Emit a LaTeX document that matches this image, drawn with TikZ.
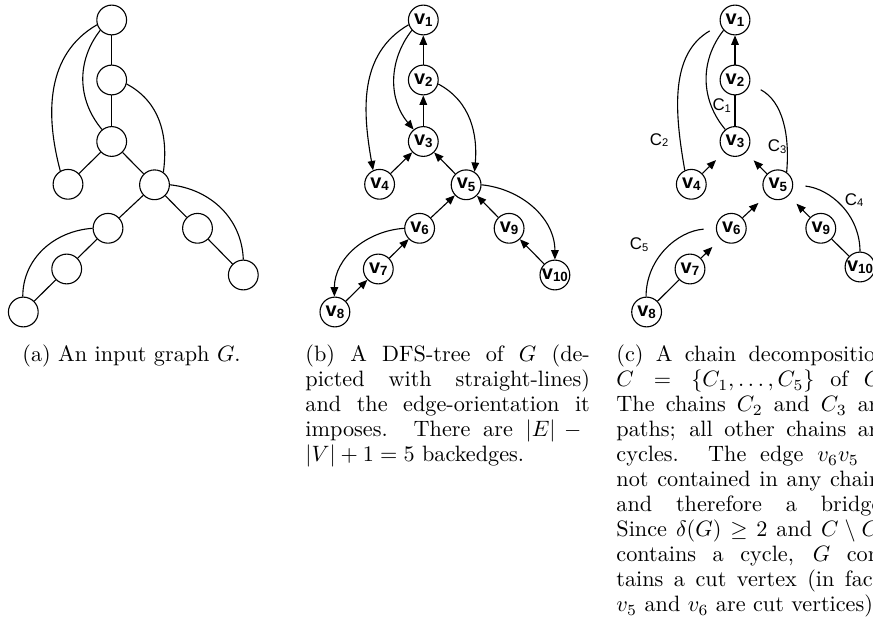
\documentclass[tikz,border=0pt]{standalone}
\usepackage{fontspec}
\newfontfamily\lsans{Liberation Sans}
\usetikzlibrary{arrows.meta}
\newcommand\vl[1]{\lsans\bfseries\fontsize{9}{9}\selectfont v\raisebox{-1pt}{\fontsize{6}{6}\selectfont #1}}
\newcommand\cl[1]{\lsans\fontsize{7.6}{8}\selectfont C\raisebox{-0.8pt}{\fontsize{5}{5}\selectfont #1}}
\newcommand\jl[2]{\makebox[#1][s]{#2}}
\begin{document}
\begin{tikzpicture}[x=0.45pt,y=-0.45pt,
  vtx/.style={circle,draw,line width=0.5pt,minimum size=13.4pt,inner sep=0pt},
  tline/.style={line width=0.5pt},
  arr/.style={line width=0.5pt,-{Triangle[length=4.2pt,width=3.4pt]}},
  sarr/.style={arr,shorten >=5pt},
  chainl/.style={line width=0.5pt,shorten <=5.5pt},
  clab/.style={inner sep=0pt},
  captxt/.style={anchor=base west,inner sep=0pt,font=\fontsize{10}{11}\selectfont}
]
\useasboundingbox (0,0) rectangle (873,622);
\clip (0,0) rectangle (873,622);

% ---------------- (a) ----------------
\node[vtx] (a1) at (111.7,20) {};
\node[vtx] (a2) at (111.7,80) {};
\node[vtx] (a3) at (111.7,141.5) {};
\node[vtx] (a4) at (68,184.3) {};
\node[vtx] (a5) at (154.5,184.8) {};
\node[vtx] (a6) at (108,228.3) {};
\node[vtx] (a7) at (66.7,269) {};
\node[vtx] (a8) at (23.3,312) {};
\node[vtx] (a9) at (197.5,228.3) {};
\node[vtx] (a10) at (243.3,275) {};
\draw[tline] (a1)--(a2);
\draw[tline] (a2)--(a3);
\draw[tline] (a3)--(a4);
\draw[tline] (a3)--(a5);
\draw[tline] (a5)--(a6);
\draw[tline] (a6)--(a7);
\draw[tline] (a7)--(a8);
\draw[tline] (a5)--(a9);
\draw[tline] (a9)--(a10);
\draw[tline] (a1.198) to[out=210,in=105] (a4.120);
\draw[tline] (a1.222) to[out=232,in=130] (a3.129);
\draw[tline] (a2.-15) to[out=-28,in=82] (a5.55);
\draw[tline] (a5.0) to[out=-6,in=92] (a10.90);
\draw[tline] (a6.180) to[out=184,in=90] (a8.92);

% ---------------- (b) ----------------
\begin{scope}[shift={(311.6,0)}]
\node[vtx] (b1) at (111.7,20) {\vl{1}};
\node[vtx] (b2) at (111.7,80) {\vl{2}};
\node[vtx] (b3) at (111.7,141.5) {\vl{3}};
\node[vtx] (b4) at (68,184.3) {\vl{4}};
\node[vtx] (b5) at (154.5,184.8) {\vl{5}};
\node[vtx] (b6) at (108,228.3) {\vl{6}};
\node[vtx] (b7) at (66.7,269) {\vl{7}};
\node[vtx] (b8) at (23.3,312) {\vl{8}};
\node[vtx] (b9) at (197.5,228.3) {\vl{9}};
\node[vtx] (b10) at (243.3,275) {\vl{10}};
\end{scope}
\draw[arr] (b2)--(b1);
\draw[arr] (b3)--(b2);
\draw[arr] (b4)--(b3);
\draw[arr] (b5)--(b3);
\draw[arr] (b6)--(b5);
\draw[arr] (b7)--(b6);
\draw[arr] (b8)--(b7);
\draw[arr] (b9)--(b5);
\draw[arr] (b10)--(b9);
\draw[arr] (b1.198) to[out=210,in=100] (b4.115);
\draw[arr] (b1.222) to[out=232,in=130] (b3.129);
\draw[arr] (b2.-15) to[out=-28,in=85] (b5.57);
\draw[arr] (b5.0) to[out=-6,in=90] (b10.90);
\draw[arr] (b6.180) to[out=184,in=90] (b8.92);

% ---------------- (c) ----------------
\begin{scope}[shift={(623.3,0)}]
\node[vtx] (c1) at (111.7,20) {\vl{1}};
\node[vtx] (c2) at (111.7,80) {\vl{2}};
\node[vtx] (c3) at (111.7,141.5) {\vl{3}};
\node[vtx] (c4) at (68,184.3) {\vl{4}};
\node[vtx] (c5) at (154.5,184.8) {\vl{5}};
\node[vtx] (c6) at (108,228.3) {\vl{6}};
\node[vtx] (c7) at (66.7,269) {\vl{7}};
\node[vtx] (c8) at (23.3,312) {\vl{8}};
\node[vtx] (c9) at (197.5,228.3) {\vl{9}};
\end{scope}
\node[vtx] (c10) at (860,267) {\vl{10}};
\draw[arr] (c2)--(c1);
\draw[tline] (c2)--(c3);
\draw[sarr] (c4)--(c3);
\draw[sarr] (c5)--(c3);
\draw[sarr] (c6)--(c5);
\draw[sarr] (c7)--(c6);
\draw[tline] (c8)--(c7);
\draw[sarr] (c9)--(c5);
\draw[tline] (c10)--(c9);
\draw[chainl] (c1.198) to[out=210,in=100] (c4.115);
\draw[tline] (c1.222) to[out=232,in=130] (c3.129);
\draw[chainl] (c2.-15) to[out=-28,in=85] (c5.55);
\draw[chainl] (c5.0) to[out=-6,in=90] (c10.90);
\draw[chainl] (c6.180) to[out=184,in=90] (c8.92);
\node[clab] (k1) at (721.7,105.3) {\cl{1}};
\node[clab] (k2) at (659,140) {\cl{2}};
\node[clab] (k3) at (777,146.7) {\cl{3}};
\node[clab] (k4) at (854,200) {\cl{4}};
\node[clab] (k5) at (639,244.3) {\cl{5}};

% ---------------- captions ----------------
\node[captxt] (capa) at (22,361.7) {(a) An input graph $G$.};

\node[captxt] (b1l) at (305,361.7) {\jl{128pt}{(b) A DFS-tree of $G$ (de-}};
\node[captxt] (b2l) at (305,386.7) {\jl{128pt}{picted with straight-lines)}};
\node[captxt] (b3l) at (305,411.7) {\jl{128pt}{and the edge-orientation it}};
\node[captxt] (b4l) at (305,436.7) {\jl{128pt}{imposes.  There are $|E|-{}$}};
\node[captxt] (b5l) at (305,461.7) {$|V|+1=5$ backedges.};

\node[captxt] (c1l) at (616,361.7) {\jl{122pt}{(c) A chain decomposition}};
\node[captxt] (c2l) at (616,386.7) {\jl{122pt}{$C = \{C_1,\ldots,C_5\}$ of $G$.}};
\node[captxt] (c3l) at (616,411.7) {\jl{122pt}{The chains $C_2$ and $C_3$ are}};
\node[captxt] (c4l) at (616,436.7) {\jl{122pt}{paths; all other chains are}};
\node[captxt] (c5l) at (616,461.7) {\jl{122pt}{cycles.  The edge $v_6v_5$ is}};
\node[captxt] (c6l) at (616,486.7) {\jl{122pt}{not contained in any chain,}};
\node[captxt] (c7l) at (616,511.7) {\jl{122pt}{and therefore a bridge.}};
\node[captxt] (c8l) at (616,536.7) {\jl{122pt}{Since $\delta(G)\geq 2$ and $C\setminus C_1$}};
\node[captxt] (c9l) at (616,561.7) {\jl{122pt}{contains a cycle, $G$ con-}};
\node[captxt] (c10l) at (616,586.7) {\jl{122pt}{tains a cut vertex (in fact,}};
\node[captxt] (c11l) at (616,611.7) {$v_5$ and $v_6$ are cut vertices).};
\end{tikzpicture}
\end{document}
